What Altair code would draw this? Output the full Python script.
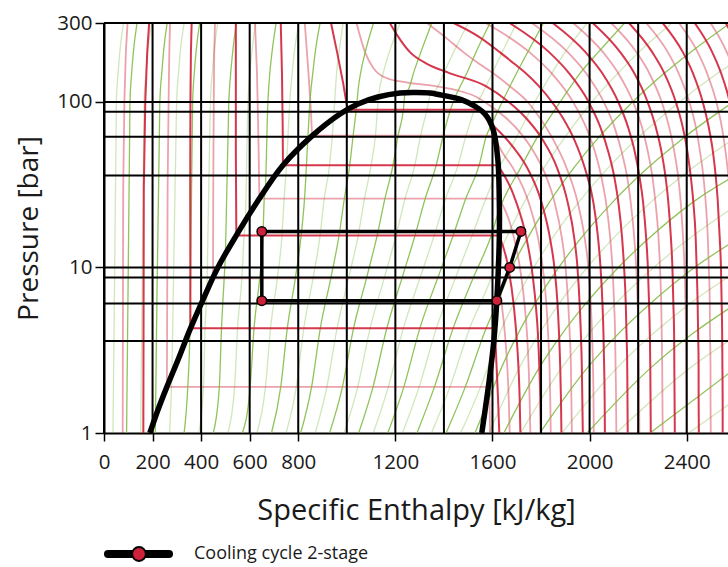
import altair as alt
import pandas as pd

# ---------------- axes / grid ----------------
X_TICKS = [0, 200, 400, 600, 800, 1200, 1600, 2000, 2400]
Y_TICKS = [1, 10, 100, 300]
GRID_H = [0, 200, 400, 600, 800, 1000, 1200, 1400, 1600, 1800, 2000, 2200, 2400]
GRID_P = [300, 100, 87.3, 61.6, 36.0, 10, 8.7, 6.05, 3.6]

# ---------------- saturation dome (h, p) ----------------
DOME = [(189, 1), (222, 1.378), (259, 1.9), (305, 2.77), (354, 4.21), (408, 6.4), (469, 10.0),
        (545, 15.63), (638, 25.83), (737, 41.5), (856, 62.2), (972, 84.6), (1046, 97.2),
        (1128, 107.2), (1219, 113.4), (1280, 114.2), (1342, 113.4), (1412, 108.4), (1474, 103),
        (1527, 94.3), (1569, 84.6), (1602, 68.6), (1622, 45.1), (1628, 25.8), (1628, 14.8),
        (1618, 6.4), (1606, 3.66), (1587, 2.1), (1556, 1)]

# ---------------- cooling cycle ----------------
CYCLE_H = [650, 650, 1618, 1671, 1717, 650]
CYCLE_P = [16.5, 6.3, 6.3, 10.0, 16.5, 16.5]
LEGEND_LABEL = "Cooling cycle 2-stage"

# ---------------- isotherms (h, p) ----------------
T_M60 = [(97, 300), (90, 200), (84, 100), (79, 30), (77, 1)]
T_M40 = [(186, 300), (178, 200), (170, 100), (164, 30), (162, 1)]
T_M20 = [(272, 300), (269, 200), (266, 100), (262, 30), (259, 1.9), (1585, 1.9), (1588, 1.5), (1590, 1)]
T_0 = [(361, 300), (358, 200), (356, 100), (355, 30), (356, 4.3), (1610, 4.3), (1617, 2.5), (1623, 1.6), (1628, 1)]
T_20 = [(457, 300), (454, 200), (452, 100), (450, 30), (449, 8.6), (1624, 8.6), (1638, 6), (1651, 4),
        (1661, 2.5), (1667, 1.6), (1671, 1)]
T_40 = [(543, 300), (543, 150), (543, 50), (545, 15.6), (1628, 15.6), (1665, 10), (1687, 6), (1698, 4),
        (1707, 2.5), (1712, 1.6), (1715, 1)]
T_60 = [(622, 300), (630, 150), (636, 60), (640, 26.1), (1628, 26.1), (1689, 15), (1713, 10), (1732, 6),
        (1742, 4), (1749, 2.5), (1753, 1.6), (1756, 1)]
T_80 = [(728, 300), (733, 150), (736, 70), (737, 41.4), (1622, 41.4), (1697, 25), (1740, 15), (1761, 10),
        (1778, 6), (1787, 4), (1793, 2.5), (1797, 1.6), (1799, 1)]
T_100 = [(827, 300), (842, 150), (852, 90), (857, 62.5), (1605, 62.5), (1639, 50), (1684, 40),
         (1748, 25), (1788, 15), (1807, 10), (1822, 6), (1829, 4), (1835, 2.5), (1838, 1.6), (1840, 1)]
T_120 = [(935, 300), (960, 200), (985, 130), (1003, 89.7), (1547, 89.7), (1575, 80), (1612, 70), (1656, 60),
         (1700, 50), (1743, 40), (1801, 25), (1837, 15), (1855, 10), (1868, 6), (1874, 4), (1879, 2.5),
         (1882, 1.6), (1884, 1)]
T_140 = [(1040, 300), (1075, 200), (1110, 160), (1160, 140), (1250, 131), (1360, 125), (1450, 118),
         (1530, 108), (1590, 95), (1656, 80), (1715, 65), (1770, 50), (1816, 37), (1855, 25), (1886, 15),
         (1901, 10), (1912, 6), (1918, 4), (1923, 2.5), (1925, 1.6), (1927, 1)]
P_HI = [300, 250, 200, 170, 150, 125, 100, 80, 60, 40, 25, 15, 10, 6, 4, 2.5, 1.6, 1]
H_160 = [1177, 1210, 1260, 1330, 1420, 1571, 1667, 1738, 1804, 1866, 1909, 1937, 1950, 1959, 1964, 1968, 1970, 1972]
H_180 = [1330, 1400, 1480, 1545, 1600, 1670, 1745, 1795, 1848, 1905, 1950, 1980, 1995, 2005, 2010, 2014, 2016, 2017]
H_200 = [1440, 1540, 1630, 1690, 1735, 1790, 1845, 1890, 1935, 1980, 2015, 2035, 2045, 2053, 2057, 2060, 2062, 2063]
P_SUP = [300, 200, 150, 100, 70, 50, 35, 25, 15, 10, 6, 4, 2.5, 1.6, 1]
H_220 = [1572, 1752, 1842, 1932, 1986, 2022, 2049, 2067, 2085, 2094, 2101, 2105, 2107, 2109, 2110]
H_240 = [1670, 1833, 1914, 1996, 2045, 2077, 2102, 2118, 2134, 2142, 2149, 2152, 2155, 2156, 2157]
H_260 = [1762, 1910, 1984, 2058, 2103, 2132, 2155, 2169, 2184, 2192, 2198, 2201, 2203, 2204, 2205]
H_280 = [1848, 1983, 2051, 2118, 2159, 2186, 2206, 2220, 2233, 2240, 2245, 2248, 2250, 2251, 2252]
H_300 = [1932, 2055, 2117, 2179, 2216, 2240, 2259, 2271, 2284, 2290, 2295, 2297, 2299, 2300, 2301]
H_320 = [2013, 2126, 2183, 2239, 2273, 2296, 2313, 2324, 2335, 2341, 2345, 2348, 2349, 2350, 2351]
H_340 = [2089, 2193, 2245, 2297, 2328, 2349, 2365, 2375, 2385, 2391, 2395, 2397, 2398, 2399, 2400]
H_360 = [2162, 2258, 2307, 2355, 2384, 2403, 2417, 2427, 2437, 2441, 2445, 2447, 2449, 2449, 2450]
H_380 = [2233, 2322, 2366, 2411, 2438, 2455, 2469, 2478, 2487, 2491, 2495, 2496, 2498, 2498, 2499]
H_400 = [2301, 2384, 2425, 2466, 2491, 2508, 2520, 2528, 2536, 2541, 2544, 2546, 2547, 2548, 2548]
H_420 = [2368, 2445, 2483, 2522, 2545, 2560, 2572, 2580, 2587, 2591, 2594, 2596, 2597, 2598, 2598]
H_440 = [2433, 2505, 2541, 2577, 2598, 2613, 2624, 2631, 2638, 2642, 2645, 2646, 2647, 2648, 2648]
H_460 = [2498, 2565, 2598, 2632, 2652, 2665, 2675, 2682, 2689, 2692, 2695, 2696, 2697, 2698, 2698]
H_480 = [2560, 2623, 2654, 2686, 2705, 2717, 2727, 2733, 2739, 2742, 2745, 2746, 2747, 2748, 2748]

# ---------------- isentropes (h, p), bottom -> top ----------------
S_M025 = [(37, 1), (51, 100), (58, 150), (65, 200), (80, 300)]
S_000 = [(93, 1), (107, 100), (114, 150), (121, 200), (136, 300)]
S_025 = [(151, 1), (165, 100), (173, 150), (180, 200), (196, 300)]
S_050 = [(211, 1), (212, 1.26), (230, 100), (238, 150), (245, 200), (260, 300)]
S_075 = [(270, 1), (280, 2.37), (299, 100), (307, 150), (314, 200), (330, 300)]
S_100 = [(330, 1), (345, 1.9), (354, 4.2), (365, 100), (372, 150), (379, 200), (394, 300)]
S_125 = [(390, 1), (410, 1.9), (416, 4.3), (424, 7.33), (438, 100), (446, 150), (453, 200), (468, 300)]
S_150 = [(450, 1), (475, 1.9), (484, 4.3), (495, 8.6), (500, 11.95), (514, 100), (522, 150), (530, 200), (545, 300)]
S_175 = [(510, 1), (538, 1.9), (550, 4.3), (568, 8.6), (577, 15.6), (582, 18.8), (593, 100), (601, 150),
         (609, 200), (625, 300)]
S_200 = [(570, 1), (602, 1.9), (618, 4.3), (641, 8.6), (655, 15.6), (660, 26.1), (664, 28.6), (675, 100),
         (683, 150), (692, 200), (709, 300)]
S_225 = [(630, 1), (665, 1.9), (686, 4.3), (714, 8.6), (733, 15.6), (742, 26.1), (752, 42.3), (765, 100),
         (775, 150), (784, 200), (803, 300)]
S_250 = [(690, 1), (728, 1.9), (755, 4.3), (788, 8.6), (812, 15.6), (826, 26.1), (839, 58), (848, 100),
         (860, 150), (870, 200), (890, 300)]
S_275 = [(750, 1), (792, 1.9), (823, 4.3), (861, 8.6), (890, 15.6), (907, 26.1), (929, 41.4), (945, 77),
         (950, 100), (958, 150), (968, 200), (985, 300)]
S_300 = [(810, 1), (855, 1.9), (891, 4.3), (934, 8.6), (968, 15.6), (990, 26.1), (1012, 41.4), (1026, 62.5),
         (1040, 93.1), (1047, 120), (1057, 150), (1076, 200), (1110, 300)]
S_325 = [(870, 1), (918, 1.9), (960, 4.3), (1007, 8.6), (1047, 15.6), (1073, 26.1), (1100, 41.4),
         (1118, 62.5), (1129, 101), (1135, 120), (1150, 150), (1175, 200), (1220, 300)]
S_350 = [(929, 1), (982, 1.9), (1028, 4.3), (1081, 8.6), (1125, 15.6), (1157, 26.1), (1190, 41.4),
         (1211, 62.5), (1233, 89.7), (1240, 113.5), (1255, 120), (1275, 150), (1305, 200), (1350, 300)]
S_375 = [(989, 1), (1045, 1.9), (1096, 4.3), (1154, 8.6), (1203, 15.6), (1240, 26.1), (1280, 41.4),
         (1304, 62.5), (1330, 89.7), (1345, 112), (1370, 120), (1400, 150), (1440, 200), (1500, 300)]
S_400 = [(1049, 1), (1108, 1.9), (1165, 4.3), (1227, 8.6), (1281, 15.6), (1323, 26.1), (1368, 41.4),
         (1397, 62.5), (1427, 89.7), (1445, 106), (1462, 120), (1495, 150), (1532, 200), (1590, 300)]
S_425 = [(1109, 1), (1171, 1.9), (1233, 4.3), (1301, 8.6), (1360, 15.6), (1407, 26.1), (1458, 41.4),
         (1491, 62.5), (1530, 93), (1555, 110), (1600, 150), (1640, 200), (1700, 300)]
S_450 = [(1169, 1), (1235, 1.9), (1301, 4.3), (1374, 8.6), (1438, 15.6), (1490, 26.1), (1545, 41.4),
         (1575, 62.5), (1594, 72), (1640, 100), (1700, 150), (1745, 200), (1810, 300)]
S_475 = [(1229, 1), (1298, 1.9), (1369, 4.3), (1447, 8.6), (1516, 15.6), (1573, 26.1), (1618, 37.5),
         (1696, 60), (1774, 100), (1845, 150), (1899, 200), (1990, 300)]
S_500 = [(1289, 1), (1361, 1.9), (1438, 4.3), (1520, 8.6), (1595, 15.6), (1628, 22.3), (1716, 40),
         (1781, 60), (1879, 100), (1962, 150), (2036, 200), (2144, 300)]
S_525 = [(1349, 1), (1425, 1.9), (1506, 4.3), (1594, 8.6), (1628, 12.05), (1656, 15), (1732, 25),
         (1812, 40), (1894, 60), (2009, 100), (2118, 150), (2203, 200), (2339, 300)]
S_550 = [(1409, 1), (1488, 1.9), (1574, 4.3), (1618, 6.03), (1680, 10), (1744, 15), (1836, 25),
         (1935, 40), (2033, 60), (2177, 100), (2310, 150), (2416, 200), (2580, 300)]
S_575 = [(1469, 1), (1551, 1.9), (1600, 2.98), (1630, 4), (1687, 6), (1770, 10), (1846, 15), (1957, 25),
         (2076, 40), (2195, 60), (2370, 100), (2530, 150), (2658, 200)]
S_600 = [(1528, 1), (1574, 1.46), (1638, 2.5), (1706, 4), (1774, 6), (1873, 10), (1964, 15), (2097, 25),
         (2240, 40), (2383, 60), (2592, 100)]
S_625 = [(1586, 1), (1712, 2.5), (1793, 4), (1873, 6), (1990, 10), (2097, 15), (2255, 25), (2425, 40), (2595, 60)]
S_650 = [(1647, 1), (1794, 2.5), (1888, 4), (1982, 6), (2118, 10), (2244, 15), (2429, 25), (2657, 40)]
S_675 = [(1716, 1), (1887, 2.5), (1997, 4), (2105, 6), (2264, 10), (2412, 15), (2627, 25)]
S_700 = [(1795, 1), (1993, 2.5), (2120, 4), (2247, 6), (2432, 10), (2614, 15)]
S_725 = [(1886, 1), (2116, 2.5), (2263, 4), (2410, 6), (2632, 10)]
S_750 = [(1990, 1), (2255, 2.5), (2426, 4), (2601, 6)]
S_775 = [(2110, 1), (2418, 2.5), (2619, 4)]
S_800 = [(2249, 1), (2607, 2.5)]
S_825 = [(2408, 1), (2577, 1.5)]

ISO_T_DARK = [T_M40, T_0, T_40, T_80, T_120, list(zip(H_160, P_HI)), list(zip(H_200, P_HI)),
              list(zip(H_240, P_SUP)), list(zip(H_280, P_SUP)), list(zip(H_320, P_SUP)),
              list(zip(H_360, P_SUP)), list(zip(H_400, P_SUP)), list(zip(H_440, P_SUP)),
              list(zip(H_480, P_SUP))]
ISO_T_LIGHT = [T_M60, T_M20, T_20, T_60, T_100, T_140, list(zip(H_180, P_HI)),
               list(zip(H_220, P_SUP)), list(zip(H_260, P_SUP)), list(zip(H_300, P_SUP)),
               list(zip(H_340, P_SUP)), list(zip(H_380, P_SUP)), list(zip(H_420, P_SUP)),
               list(zip(H_460, P_SUP))]
ISO_S_DARK = [S_000, S_050, S_100, S_150, S_200, S_250, S_300, S_350, S_400, S_450, S_500, S_550,
              S_600, S_650, S_700, S_750, S_800]
ISO_S_LIGHT = [S_M025, S_025, S_075, S_125, S_175, S_225, S_275, S_325, S_375, S_425, S_475, S_525,
               S_575, S_625, S_675, S_725, S_775, S_825]


def split_isotherm(pts):
    """Liquid + two-phase part (drawn straight) and vapour part (drawn smooth)."""
    for i in range(1, len(pts)):
        if pts[i][1] == pts[i - 1][1]:
            return pts[:i + 1], pts[i:]
    if pts[0][0] > pts[-1][0]:  # pure liquid line
        return pts, []
    return [], pts


def frame(curves, tag):
    rows = []
    for k, pts in enumerate(curves):
        for i, (h, p) in enumerate(pts):
            rows.append({"cid": f"{tag}{k}", "h": h, "p": p, "o": i})
    return pd.DataFrame(rows, columns=["cid", "h", "p", "o"])


def isotherm_frames(curves, tag):
    straight, smooth = [], []
    for pts in curves:
        a, b = split_isotherm(pts)
        if a:
            straight.append(a)
        if b:
            smooth.append(b)
    return frame(straight, tag + "s"), frame(smooth, tag + "m")


FONT = "Open Sans"
RED = "#d0213a"
GREEN = "#7cb83e"

XS = alt.Scale(domain=[0, 2570], nice=False, zero=False)
YS = alt.Scale(type="log", domain=[1, 300], nice=False)
XA = alt.Axis(values=X_TICKS, format="d", grid=False, domainColor="black", domainWidth=2,
              tickColor="black", tickSize=8, tickWidth=1.5, labelFont=FONT, labelFontSize=20.5,
              labelColor="#1a1a1a", labelPadding=11, titleFont=FONT, titleFontSize=29,
              titleFontWeight="normal", titleColor="#1a1a1a", titlePadding=24, labelFlush=False)
YA = alt.Axis(values=Y_TICKS, format="d", grid=False, domainColor="black", domainWidth=2,
              tickColor="black", tickSize=9, tickWidth=1.5, labelFont=FONT, labelFontSize=20.5,
              labelColor="#1a1a1a", labelPadding=3, titleFont=FONT, titleFontSize=28,
              titleFontWeight="normal", titleColor="#1a1a1a", titlePadding=13, labelFlush=False)
X = alt.X("h:Q", scale=XS, axis=XA, title="Specific Enthalpy [kJ/kg]")
Y = alt.Y("p:Q", scale=YS, axis=YA, title="Pressure [bar]")


def curve_layer(df, color, width, opacity, interp):
    return alt.Chart(df).mark_line(clip=True, color=color, strokeWidth=width, opacity=opacity,
                                   interpolate=interp).encode(
        x=X, y=Y, detail="cid:N", order="o:Q")


tl_s, tl_m = isotherm_frames(ISO_T_LIGHT, "tl")
td_s, td_m = isotherm_frames(ISO_T_DARK, "td")

layers = [
    curve_layer(frame(ISO_S_LIGHT, "sl"), GREEN, 1.3, 0.35, "monotone"),
    curve_layer(tl_s, RED, 1.8, 0.42, "linear"),
    curve_layer(tl_m, RED, 1.8, 0.42, "monotone"),
    curve_layer(frame(ISO_S_DARK, "sd"), GREEN, 1.3, 0.85, "monotone"),
    curve_layer(td_s, RED, 2.0, 0.9, "linear"),
    curve_layer(td_m, RED, 2.0, 0.9, "monotone"),
]

vgrid = alt.Chart(pd.DataFrame({"h": GRID_H})).mark_rule(color="black", strokeWidth=2).encode(x=X)
hgrid = alt.Chart(pd.DataFrame({"p": GRID_P})).mark_rule(color="black", strokeWidth=2).encode(y=Y)

dome_df = pd.DataFrame({"h": [d[0] for d in DOME], "p": [d[1] for d in DOME],
                        "o": list(range(len(DOME)))})
dome = alt.Chart(dome_df).mark_line(color="black", strokeWidth=5.5, interpolate="catmull-rom",
                                    clip=True).encode(x=X, y=Y, order="o:Q")

cyc_df = pd.DataFrame({"h": CYCLE_H, "p": CYCLE_P, "o": list(range(len(CYCLE_H)))})
cycle = alt.Chart(cyc_df).mark_line(color="black", strokeWidth=3.5).encode(x=X, y=Y, order="o:Q")
cyc_pts = alt.Chart(cyc_df.iloc[:5]).mark_circle(color=RED, opacity=1, size=90, stroke="black",
                                                 strokeWidth=1.5).encode(x=X, y=Y)

leg_df = pd.DataFrame({"label": [LEGEND_LABEL]})
leg_line = alt.Chart(leg_df).mark_rule(color="black", strokeWidth=8, strokeCap="round").encode(
    x=alt.value(4), x2=alt.value(65), y=alt.value(531))
leg_dot = alt.Chart(leg_df).mark_circle(color=RED, opacity=1, size=190, stroke="black",
                                        strokeWidth=2).encode(x=alt.value(35), y=alt.value(531))
leg_text = alt.Chart(leg_df).mark_text(align="left", baseline="middle", font=FONT, fontSize=18,
                                       color="#1a1a1a").encode(
    x=alt.value(90), y=alt.value(531), text="label:N")

chart = alt.layer(*layers, vgrid, hgrid, dome, cycle, cyc_pts,
                  leg_line, leg_dot, leg_text).properties(
    width=624, height=410, autosize="none",
    padding={"left": 104, "top": 23, "right": 0, "bottom": 134},
).configure_view(strokeWidth=0).configure(background="white")

chart.save("out.html", embed_options={"renderer": "svg", "actions": False})
